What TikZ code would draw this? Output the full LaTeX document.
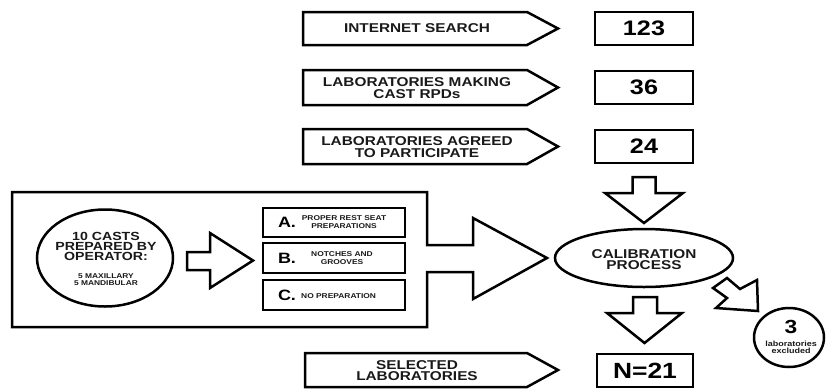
\documentclass[tikz,border=0pt]{standalone}
\usepackage{fontspec}
\setmainfont{Liberation Sans}
\newfontfamily\widesans[FakeStretch=1.2]{Liberation Sans}
\usetikzlibrary{shapes.geometric}
\newcommand\fs[1]{\widesans\bfseries\fontsize{#1}{#1}\selectfont}
\begin{document}
\begin{tikzpicture}[x=1pt,y=-1pt,
  outline/.style={draw=black, line width=2.5pt, line join=miter, miter limit=4},
  lbl/.style={font=\fs{12.8}, align=center, inner sep=0pt, text=black!90},
  numbox/.style={outline, rectangle, minimum width=98pt, minimum height=33pt, inner sep=0pt, font=\fs{21}},
  small/.style={font=\fs{7}, align=center, inner sep=0pt, text=black!90},
  letter/.style={font=\fs{15}, inner sep=0pt},
  abcbox/.style={outline, rectangle, minimum width=142pt, inner sep=0pt},
]
\useasboundingbox (0,0) rectangle (827,389);

% signposts
\draw[outline] (303,12) -- (527,12) -- (558,28.5) -- (527,45) -- (303,45) -- cycle;
\node[lbl] (s1) at (417,28.5) {INTERNET SEARCH};
\draw[outline] (303,70) -- (527,70) -- (558,87.5) -- (527,105) -- (303,105) -- cycle;
\node[lbl] (s2) at (417,88) {LABORATORIES MAKING\\[-1pt]CAST RPDs};
\draw[outline] (303,129) -- (527,129) -- (558,146.5) -- (527,164) -- (303,164) -- cycle;
\node[lbl] (s3) at (417,147) {LABORATORIES AGREED\\[-1pt]TO PARTICIPATE};
\draw[outline] (305,353) -- (527,353) -- (558,370) -- (527,387) -- (305,387) -- cycle;
\node[lbl] (s4) at (417,370.5) {SELECTED\\[-1pt]LABORATORIES};

% number boxes
\node[numbox] (n1) at (644,28.5) {123};
\node[numbox] (n2) at (644,87.5) {36};
\node[numbox] (n3) at (644,146.5) {24};
\node[numbox, minimum width=96pt, font=\fs{22}] (n4) at (645,370.5) {N=21};

% calibration
\node[outline, ellipse, minimum width=178pt, minimum height=58pt, inner sep=0pt] (cal) at (644,258) {};
\node[lbl] (caltxt) at (644,259.5) {CALIBRATION\\[-1pt]PROCESS};

% down arrow 24 -> calibration
\draw[outline] (632.5,177) -- (655.5,177) -- (655.5,193) -- (683,193) -- (644,223)
  -- (605,193) -- (632.5,193) -- cycle;
% down arrow calibration -> N=21
\draw[outline] (633,297) -- (657,297) -- (657,313) -- (682,313) -- (644.5,343)
  -- (607,313) -- (633,313) -- cycle;

% diagonal arrow to excluded
\draw[outline] (713,288) -- (727,278) -- (740,289) -- (757,280) -- (758,311)
  -- (716,308) -- (727,298) -- cycle;

% excluded
\node[outline, ellipse, minimum width=70pt, minimum height=59pt, inner sep=0pt] (ex) at (789,337.5) {};
\node[font=\fs{19}, inner sep=0pt] (ex3) at (791,327) {3};
\node[small, font=\fs{7.5}] (extxt) at (791,347) {laboratories\\[-0.5pt]excluded};

% big box with arrow
\draw[outline] (12,192) -- (427,192) -- (427,245) -- (473,245) -- (473,218) -- (547,258)
  -- (473,299) -- (473,272) -- (427,272) -- (427,327) -- (12,327) -- cycle;

% casts ellipse
\node[outline, ellipse, minimum width=136pt, minimum height=97pt, inner sep=0pt] (casts) at (105,258) {};
\node[font=\fs{11.8}, align=center, inner sep=0pt, text=black!90] (caststxt) at (106,246.5) {10 CASTS\\[-1.5pt]PREPARED BY\\[-1.5pt]OPERATOR:};
\node[small] (castsub) at (106,280) {5 MAXILLARY\\[0pt]5 MANDIBULAR};

% inner arrow
\draw[outline] (187,252) -- (210,252) -- (210,233) -- (253,260.5) -- (210,288) -- (210,270)
  -- (187,270) -- cycle;

% A B C boxes
\node[abcbox, minimum height=29pt] (ba) at (334,222.5) {};
\node[abcbox, minimum height=30pt] (bb) at (334,258) {};
\node[abcbox, minimum height=30pt] (bc) at (334,295) {};
\node[letter] (la) at (287,222.5) {A.};
\node[letter] (lb) at (287,258.5) {B.};
\node[letter] (lc) at (287,295) {C.};
\node[small] (ta) at (344,222) {PROPER REST SEAT\\[1pt]PREPARATIONS};
\node[small] (tb) at (342,258) {NOTCHES AND\\[1pt]GROOVES};
\node[small, anchor=west] (tc) at (301,296) {NO PREPARATION};
\end{tikzpicture}
\end{document}
